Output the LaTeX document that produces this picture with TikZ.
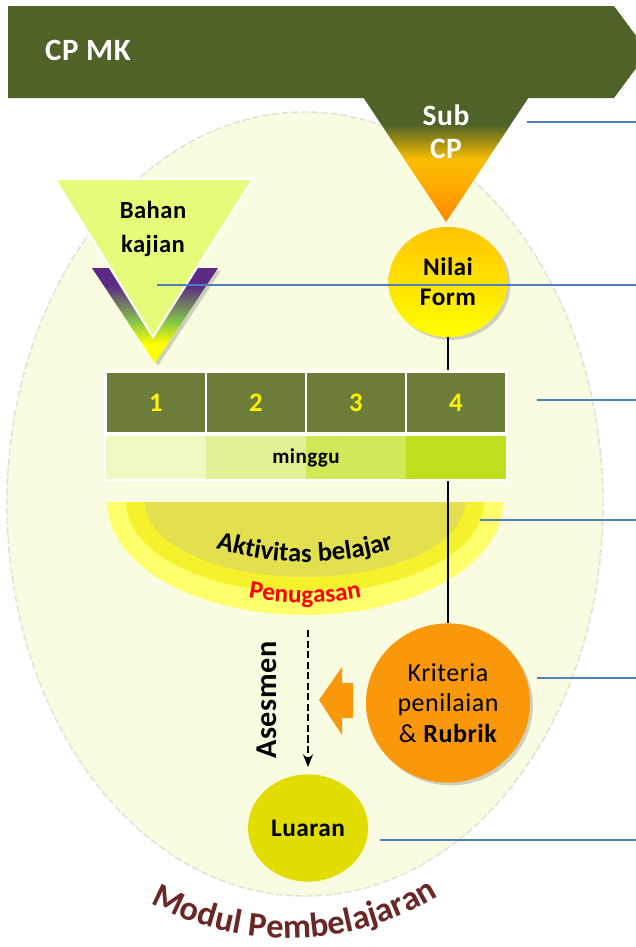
\documentclass[tikz,border=0pt]{standalone}
\usepackage{fontspec}
\setmainfont{Carlito}[LetterSpace=2]
\usetikzlibrary{arrows.meta,positioning,shapes.geometric,shadows,decorations.text}
\definecolor{banner}{RGB}{79,98,40}
\definecolor{wkolive}{RGB}{108,125,58}
\definecolor{modbg}{RGB}{249,252,224}
\definecolor{modedge}{RGB}{224,224,214}
\definecolor{subgold}{RGB}{250,190,0}
\definecolor{subgoldb}{RGB}{255,172,0}
\definecolor{suborange}{RGB}{255,135,0}
\definecolor{nilaitop}{RGB}{255,196,0}
\definecolor{bahanfill}{RGB}{231,250,122}
\definecolor{vpurple}{RGB}{92,42,132}
\definecolor{vgreen}{RGB}{132,196,72}
\definecolor{wk1}{RGB}{240,248,196}
\definecolor{wk2}{RGB}{226,241,150}
\definecolor{wk3}{RGB}{210,232,88}
\definecolor{wk4}{RGB}{190,222,30}
\definecolor{akt1}{RGB}{255,255,108}
\definecolor{akt2}{RGB}{245,242,45}
\definecolor{akt3}{RGB}{227,224,80}
\definecolor{krit}{RGB}{250,152,12}
\definecolor{luar}{RGB}{225,221,0}
\definecolor{leadblue}{RGB}{79,129,189}
\definecolor{modtext}{RGB}{107,38,38}
\pgfdeclareverticalshading{subcpshade}{100bp}{color(0bp)=(suborange); color(25bp)=(suborange); color(40bp)=(subgoldb); color(50bp)=(subgold); color(64bp)=(banner); color(100bp)=(banner)}
\pgfdeclareverticalshading{vshade}{100bp}{color(0bp)=(yellow); color(25bp)=(yellow); color(35bp)=(yellow); color(47bp)=(vgreen); color(66bp)=(vpurple); color(100bp)=(vpurple)}

\begin{document}
\begin{tikzpicture}[x=0.025cm,y=0.025cm,
    txt/.style={align=center,inner sep=0pt},
    shadowed/.style={drop shadow={shadow xshift=2pt,shadow yshift=-2pt,opacity=.35}},
    wkcell/.style={fill=wkolive,minimum width=2.45cm,minimum height=1.475cm,inner sep=0pt,text=yellow,font=\bfseries\fontsize{19}{19}\selectfont},
    mgcell/.style={minimum width=2.5cm,minimum height=1.075cm,inner sep=0pt},
    lead/.style={leadblue,line width=1.4pt}]
    \useasboundingbox (0,0) rectangle (636,-947);
    \draw[fill=modbg,draw=modedge,line width=1pt,dash pattern=on 5pt off 2pt] (305,-504) ellipse [x radius=298,y radius=392];
    \fill[banner] (8,-6) -- (614,-6) -- (648,-52) -- (614,-98) -- (8,-98) -- cycle;
    \node[font=\bfseries\fontsize{22}{22}\selectfont,text=white] (cpmk) at (88,-50) {CP MK};
    \shade[shading=subcpshade] (363,-97) -- (529,-97) -- (446,-222) -- cycle;
    \node[txt,text=white,font=\bfseries\fontsize{21}{23.5}\selectfont] (subcp) at (446,-132) {Sub\\CP};
    % aktivitas belajar
    \fill[akt1] (107,-502) arc[start angle=180,end angle=360,x radius=198,y radius=113] -- cycle;
    \fill[akt2] (126,-502) arc[start angle=180,end angle=360,x radius=179,y radius=91] -- cycle;
    \fill[akt3] (145,-502) arc[start angle=180,end angle=360,x radius=160,y radius=75] -- cycle;
    \path[decorate,decoration={text along path,text align=center,text={|\bfseries\fontsize{19}{19}\selectfont|Aktivitas belajar}}] (305,-261) ++(248:301) arc[start angle=248,end angle=292,radius=301];
    \path[decorate,decoration={text along path,text align=center,text color=red,text={|\bfseries\fontsize{18}{18}\selectfont|Penugasan}}] (305,-298) ++(250:305) arc[start angle=250,end angle=290,radius=305];
    \node[ellipse,minimum width=2.975cm,minimum height=2.75cm,inner sep=0pt,top color=nilaitop,bottom color=yellow,shadowed,align=center,font=\bfseries\fontsize{18}{21.5}\selectfont] (nilai) at (448,-282) {Nilai\\Form};
    \node[ellipse,minimum width=4.1cm,minimum height=3.98cm,inner sep=0pt,fill=krit,shadowed,align=center,font=\fontsize{18.5}{21.5}\selectfont] (krit) at (448,-703) {Kriteria\\penilaian\\\& \textbf{Rubrik}};
    \node[ellipse,minimum width=3cm,minimum height=2.68cm,inner sep=0pt,fill=luar,font=\bfseries\fontsize{18}{18}\selectfont] (luaran) at (308,-828) {Luaran};
    \draw[line width=1.4pt] (nilai.south) -- (krit.north);
    % minggu
    \fill[white] (104,-370) rectangle (508,-481);
    \foreach \i/\c in {1/wk1,2/wk2,3/wk3,4/wk4}{
      \node[wkcell] (wk\i) at ({56+100*\i},-402.5) {\i};
      \node[mgcell,fill=\c] (mg\i) at ({56+100*\i},-457.5) {};
    }
    \node[font=\bfseries\fontsize{15}{15}\selectfont] (minggu) at (306,-458) {minggu};
    % bahan kajian
    \shade[shading=vshade,shadowed] (92,-268) -- (218,-268) -- (155,-363) -- cycle;
    \draw[fill=bahanfill,draw=white,line width=1.5pt] (55,-179) -- (253,-179) -- (153,-337) -- cycle;
    \node[txt,font=\bfseries\fontsize{17.5}{24}\selectfont] (bahan) at (153,-229) {Bahan\\kajian};
    % asesmen
    \coordinate (asm) at (308,-630);
    \draw[line width=1.6pt,dash pattern=on 5pt off 2.5pt,-{Stealth[length=9pt,width=7pt]},shorten >=5pt] (asm) -- (luaran);
    \node[rotate=90,font=\bfseries\fontsize{21.5}{21.5}\selectfont] (asesmen) at (267,-700) {Asesmen};
    \fill[krit] (319,-700) -- (342,-667) -- (342,-683) -- (353,-683) -- (353,-718) -- (342,-718) -- (342,-735) -- cycle;
    \path[decorate,decoration={text along path,text align=center,text color=modtext,text={|\bfseries\fontsize{24.5}{24.5}\selectfont|Modul Pembelajaran}}] (288,-648) ++(234:290) arc[start angle=234,end angle=309,radius=290];
    \foreach \s/\y [count=\k] in {527/122,157/285,537/400,480/520,537/678,380/840}{
      \coordinate (lead\k) at (636,-\y);
      \draw[lead] (\s,-\y) -- (lead\k);
    }
\end{tikzpicture}
\end{document}
